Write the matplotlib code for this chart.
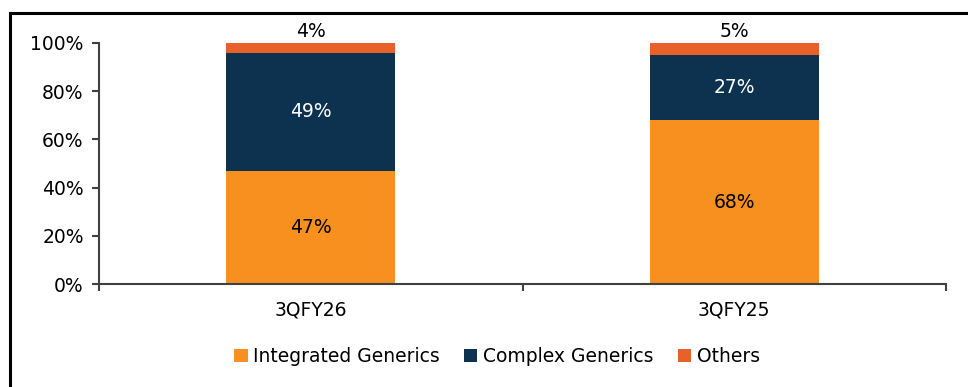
import matplotlib.pyplot as plt
from matplotlib.lines import Line2D
from matplotlib.ticker import PercentFormatter

periods = ["3QFY26", "3QFY25"]
integrated = [47, 68]
complex_gen = [49, 27]
others = [4, 5]

series = ["Integrated Generics", "Complex Generics", "Others"]
colors = ["#F7901E", "#0D3250", "#E8612A"]

plt.rcParams["font.family"] = ["DejaVu Sans"]
FS = 13.5

fig = plt.figure(figsize=(9.68, 3.87), dpi=100)
ax = fig.add_axes([99 / 968, 1 - 284 / 387, (946 - 99) / 968, (284 - 43) / 387])

x = range(len(periods))
bottom = [0, 0]
for vals, name, col in zip([integrated, complex_gen, others], series, colors):
    ax.bar(x, vals, width=0.4, bottom=bottom, color=col, label=name)
    for i, (b, v) in enumerate(zip(bottom, vals)):
        if name == "Others":
            ax.text(i, b + v + 1, f"{v}%", ha="center", va="bottom", fontsize=FS, color="black")
        else:
            ax.text(i, b + v / 2, f"{v}%", ha="center", va="center", fontsize=FS,
                    color="white" if name == "Complex Generics" else "black")
    bottom = [b + v for b, v in zip(bottom, vals)]

ax.set_xlim(-0.5, 1.5)
ax.set_ylim(0, 100)
ax.set_yticks(range(0, 101, 20))
ax.yaxis.set_major_formatter(PercentFormatter(decimals=0))
ax.set_xticks(list(x))
ax.set_xticklabels(periods)
ax.set_xticks([-0.5, 0.5, 1.5], minor=True)
ax.tick_params(axis="x", which="major", length=0, pad=12, labelsize=FS)
ax.tick_params(axis="x", which="minor", length=5, width=1.5, color="#404040")
ax.tick_params(axis="y", length=5, width=1.5, color="#404040", labelsize=FS, pad=6)

for side in ["top", "right"]:
    ax.spines[side].set_visible(False)
for side in ["left", "bottom"]:
    ax.spines[side].set_color("#404040")
    ax.spines[side].set_linewidth(1.5)

ax.legend(loc="center", bbox_to_anchor=(0.47, -0.3), ncol=3, frameon=False, fontsize=FS,
          handlelength=0.7, handleheight=0.7, handletextpad=0.3, columnspacing=1.3)

# outer frame: top and left edges
fig.add_artist(Line2D([9.5 / 968, 1], [1 - 12.5 / 387] * 2, color="black", lw=2.2))
fig.add_artist(Line2D([9.5 / 968] * 2, [0, 1 - 12.5 / 387], color="black", lw=2.2))

fig.savefig("out.png", dpi=100)
